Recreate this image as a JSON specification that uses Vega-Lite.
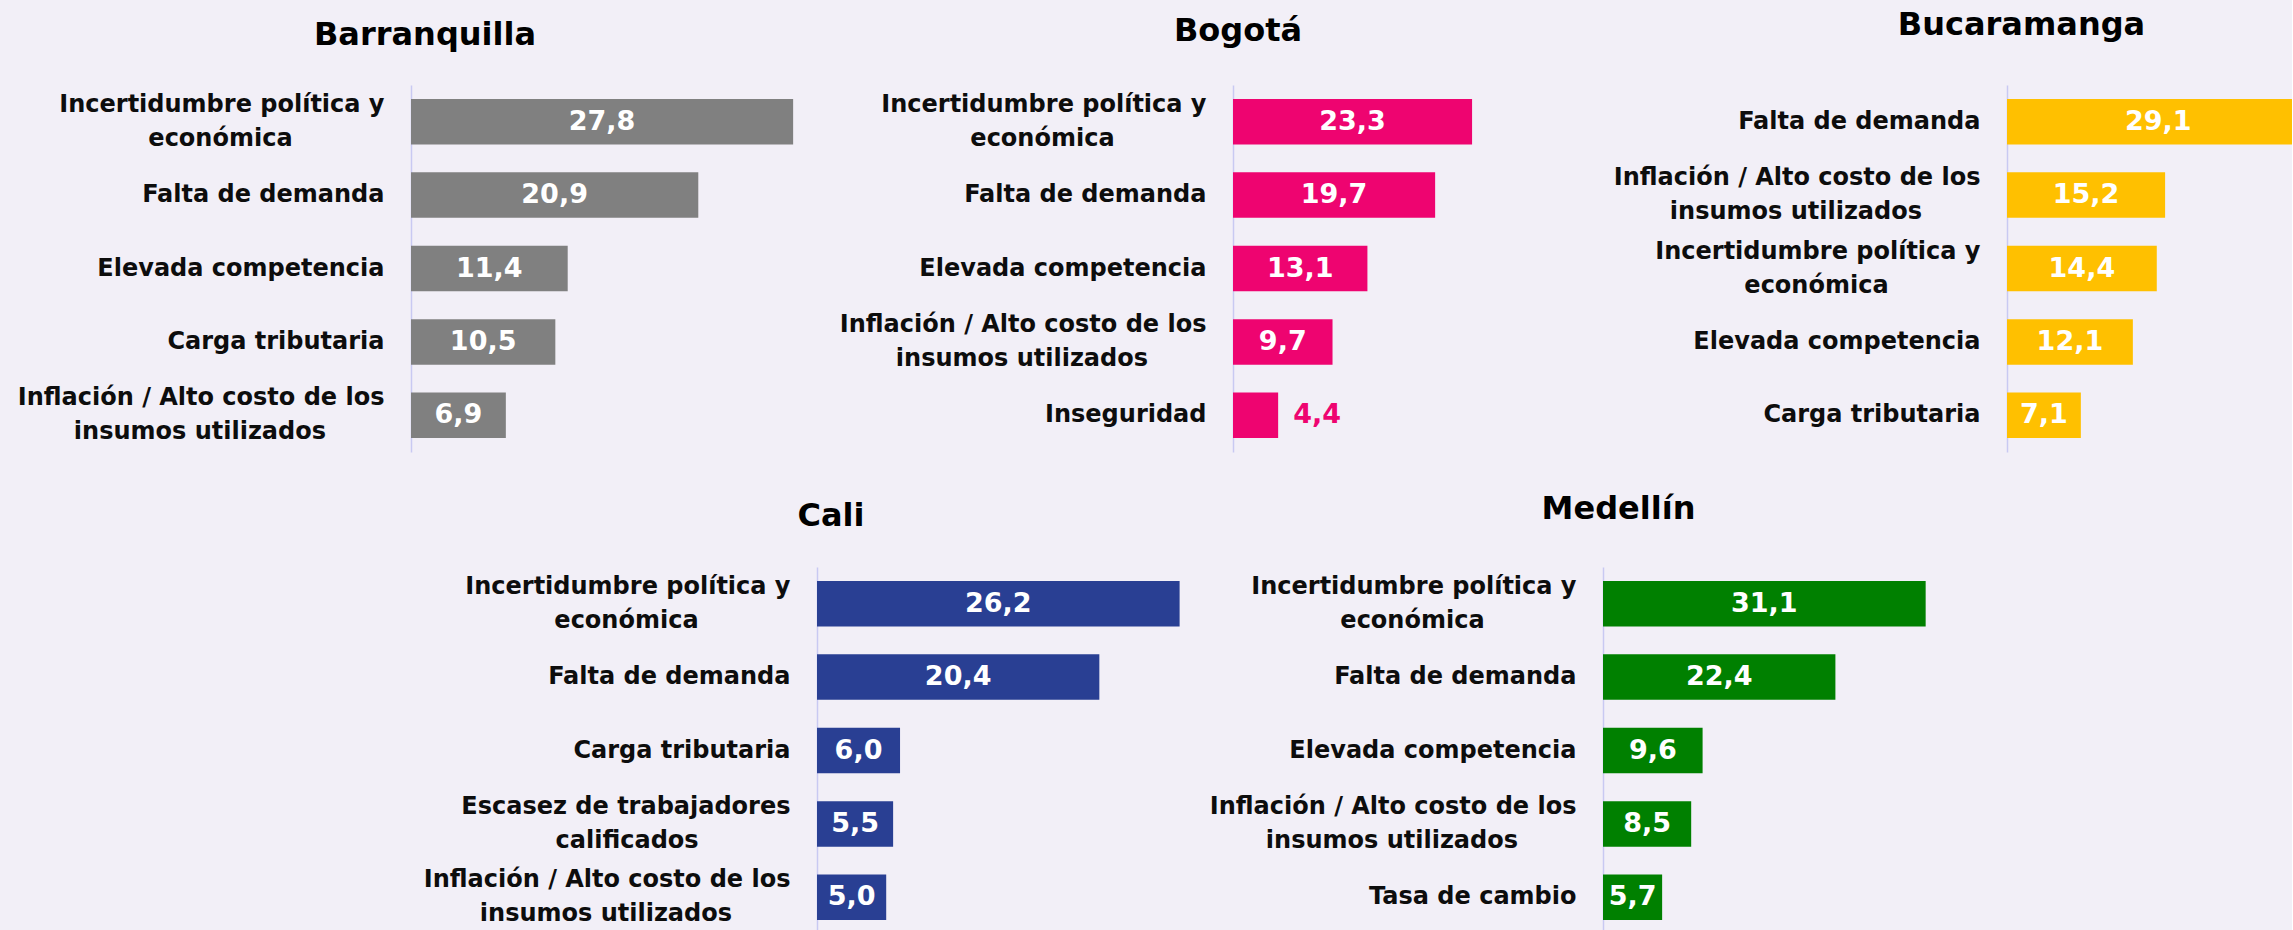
{
  "$schema": "https://vega.github.io/schema/vega-lite/v6.json",
  "padding": {"top": 8, "left": 0, "right": 0, "bottom": 0},
  "background": "#f2eff7",
  "datasets": {
    "d": [
      {"city": "Barranquilla", "factor": "Incertidumbre política y económica", "value": 27.8},
      {"city": "Barranquilla", "factor": "Falta de demanda", "value": 20.9},
      {"city": "Barranquilla", "factor": "Elevada competencia", "value": 11.4},
      {"city": "Barranquilla", "factor": "Carga tributaria", "value": 10.5},
      {"city": "Barranquilla", "factor": "Inflación / Alto costo de los insumos utilizados", "value": 6.9},
      {"city": "Bogotá", "factor": "Incertidumbre política y económica", "value": 23.3},
      {"city": "Bogotá", "factor": "Falta de demanda", "value": 19.7},
      {"city": "Bogotá", "factor": "Elevada competencia", "value": 13.1},
      {"city": "Bogotá", "factor": "Inflación / Alto costo de los insumos utilizados", "value": 9.7},
      {"city": "Bogotá", "factor": "Inseguridad", "value": 4.4},
      {"city": "Bucaramanga", "factor": "Falta de demanda", "value": 29.1},
      {"city": "Bucaramanga", "factor": "Inflación / Alto costo de los insumos utilizados", "value": 15.2},
      {"city": "Bucaramanga", "factor": "Incertidumbre política y económica", "value": 14.4},
      {"city": "Bucaramanga", "factor": "Elevada competencia", "value": 12.1},
      {"city": "Bucaramanga", "factor": "Carga tributaria", "value": 7.1},
      {"city": "Cali", "factor": "Incertidumbre política y económica", "value": 26.2},
      {"city": "Cali", "factor": "Falta de demanda", "value": 20.4},
      {"city": "Cali", "factor": "Carga tributaria", "value": 6.0},
      {"city": "Cali", "factor": "Escasez de trabajadores calificados", "value": 5.5},
      {"city": "Cali", "factor": "Inflación / Alto costo de los insumos utilizados", "value": 5.0},
      {"city": "Medellín", "factor": "Incertidumbre política y económica", "value": 31.1},
      {"city": "Medellín", "factor": "Falta de demanda", "value": 22.4},
      {"city": "Medellín", "factor": "Elevada competencia", "value": 9.6},
      {"city": "Medellín", "factor": "Inflación / Alto costo de los insumos utilizados", "value": 8.5},
      {"city": "Medellín", "factor": "Tasa de cambio", "value": 5.7}
    ]
  },
  "spacing": 40,
  "vconcat": [
    {
      "spacing": 0,
      "hconcat": [
        {
          "width": 422, "height": 367,
          "data": {"name": "d"},
          "transform": [{"filter": "datum.city == 'Barranquilla'"}],
          "title": {"text": "Barranquilla", "frame": "group", "anchor": "middle", "dx": -197, "offset": 8.5, "baseline": "alphabetic"},
          "encoding": {
            "y": {"field": "factor", "type": "nominal", "sort": null,
              "scale": {"domain": ["Incertidumbre política y económica", "Falta de demanda", "Elevada competencia", "Carga tributaria", "Inflación / Alto costo de los insumos utilizados"], "paddingInner": 0.38, "paddingOuter": 0.19},
              "axis": {"minExtent": 411, "maxExtent": 411}}
          },
          "layer": [
            {"mark": {"type": "bar", "color": "#808080", "clip": true},
             "encoding": {"x": {"field": "value", "type": "quantitative", "scale": {"domain": [0, 30.7], "nice": false, "zero": true}, "axis": null}}},
            {"transform": [{"filter": "datum.value >= 5"}],
             "mark": {"type": "text", "color": "#ffffff"},
             "encoding": {"x": {"field": "value", "type": "quantitative", "scale": {"domain": [0, 61.4], "nice": false}, "axis": null},
                          "text": {"field": "value", "type": "quantitative", "format": ".1f"}}}
          ],
          "resolve": {"scale": {"x": "independent"}}
        },
        {
          "width": 374, "height": 367,
          "data": {"name": "d"},
          "transform": [{"filter": "datum.city == 'Bogotá'"}],
          "title": {"text": "Bogotá", "frame": "group", "anchor": "middle", "dx": -182, "offset": 12.5, "baseline": "alphabetic"},
          "encoding": {
            "y": {"field": "factor", "type": "nominal", "sort": null,
              "scale": {"domain": ["Incertidumbre política y económica", "Falta de demanda", "Elevada competencia", "Inflación / Alto costo de los insumos utilizados", "Inseguridad"], "paddingInner": 0.38, "paddingOuter": 0.19},
              "axis": {"minExtent": 400, "maxExtent": 400}}
          },
          "layer": [
            {"mark": {"type": "bar", "color": "#ee0470", "clip": true},
             "encoding": {"x": {"field": "value", "type": "quantitative", "scale": {"domain": [0, 36.45], "nice": false, "zero": true}, "axis": null}}},
            {"transform": [{"filter": "datum.value >= 5"}],
             "mark": {"type": "text", "color": "#ffffff"},
             "encoding": {"x": {"field": "value", "type": "quantitative", "scale": {"domain": [0, 72.9], "nice": false}, "axis": null},
                          "text": {"field": "value", "type": "quantitative", "format": ".1f"}}},
            {"transform": [{"filter": "datum.value < 5"}],
             "mark": {"type": "text", "color": "#ee0470", "align": "left", "dx": 15},
             "encoding": {"x": {"field": "value", "type": "quantitative", "scale": {"domain": [0, 36.45], "nice": false}, "axis": null},
                          "text": {"field": "value", "type": "quantitative", "format": ".1f"}}}
          ],
          "resolve": {"scale": {"x": "independent"}}
        },
        {
          "width": 285, "height": 367,
          "data": {"name": "d"},
          "transform": [{"filter": "datum.city == 'Bucaramanga'"}],
          "title": {"text": "Bucaramanga", "frame": "group", "anchor": "middle", "dx": -128, "offset": 18.5, "baseline": "alphabetic"},
          "encoding": {
            "y": {"field": "factor", "type": "nominal", "sort": null,
              "scale": {"domain": ["Falta de demanda", "Inflación / Alto costo de los insumos utilizados", "Incertidumbre política y económica", "Elevada competencia", "Carga tributaria"], "paddingInner": 0.38, "paddingOuter": 0.19},
              "axis": {"minExtent": 400, "maxExtent": 400}}
          },
          "layer": [
            {"mark": {"type": "bar", "color": "#ffc000", "clip": true},
             "encoding": {"x": {"field": "value", "type": "quantitative", "scale": {"domain": [0, 27.4], "nice": false, "zero": true}, "axis": null}}},
            {"transform": [{"filter": "datum.value >= 5"}],
             "mark": {"type": "text", "color": "#ffffff"},
             "encoding": {"x": {"field": "value", "type": "quantitative", "scale": {"domain": [0, 54.8], "nice": false}, "axis": null},
                          "text": {"field": "value", "type": "quantitative", "format": ".1f"}}}
          ],
          "resolve": {"scale": {"x": "independent"}}
        }
      ]
    },
    {
      "spacing": 0,
      "hconcat": [
        {
          "width": 6, "height": 1,
          "data": {"values": [{}]},
          "mark": {"type": "text", "text": ""},
          "encoding": {}
        },
        {
          "width": 386, "height": 367,
          "data": {"name": "d"},
          "transform": [{"filter": "datum.city == 'Cali'"}],
          "title": {"text": "Cali", "frame": "group", "anchor": "middle", "dx": -179, "offset": 9.5, "baseline": "alphabetic"},
          "encoding": {
            "y": {"field": "factor", "type": "nominal", "sort": null,
              "scale": {"domain": ["Incertidumbre política y económica", "Falta de demanda", "Carga tributaria", "Escasez de trabajadores calificados", "Inflación / Alto costo de los insumos utilizados"], "paddingInner": 0.38, "paddingOuter": 0.19},
              "axis": {"minExtent": 400, "maxExtent": 400}}
          },
          "layer": [
            {"mark": {"type": "bar", "color": "#293f93", "clip": true},
             "encoding": {"x": {"field": "value", "type": "quantitative", "scale": {"domain": [0, 27.89], "nice": false, "zero": true}, "axis": null}}},
            {"transform": [{"filter": "datum.value >= 5"}],
             "mark": {"type": "text", "color": "#ffffff"},
             "encoding": {"x": {"field": "value", "type": "quantitative", "scale": {"domain": [0, 55.78], "nice": false}, "axis": null},
                          "text": {"field": "value", "type": "quantitative", "format": ".1f"}}}
          ],
          "resolve": {"scale": {"x": "independent"}}
        },
        {
          "width": 415, "height": 367,
          "data": {"name": "d"},
          "transform": [{"filter": "datum.city == 'Medellín'"}],
          "title": {"text": "Medellín", "frame": "group", "anchor": "middle", "dx": -192, "offset": 16.5, "baseline": "alphabetic"},
          "encoding": {
            "y": {"field": "factor", "type": "nominal", "sort": null,
              "scale": {"domain": ["Incertidumbre política y económica", "Falta de demanda", "Elevada competencia", "Inflación / Alto costo de los insumos utilizados", "Tasa de cambio"], "paddingInner": 0.38, "paddingOuter": 0.19},
              "axis": {"minExtent": 400, "maxExtent": 400}}
          },
          "layer": [
            {"mark": {"type": "bar", "color": "#008000", "clip": true},
             "encoding": {"x": {"field": "value", "type": "quantitative", "scale": {"domain": [0, 40], "nice": false, "zero": true}, "axis": null}}},
            {"transform": [{"filter": "datum.value >= 5"}],
             "mark": {"type": "text", "color": "#ffffff"},
             "encoding": {"x": {"field": "value", "type": "quantitative", "scale": {"domain": [0, 80], "nice": false}, "axis": null},
                          "text": {"field": "value", "type": "quantitative", "format": ".1f"}}}
          ],
          "resolve": {"scale": {"x": "independent"}}
        }
      ]
    }
  ],
  "config": {
    "locale": {"number": {"decimal": ",", "thousands": ".", "grouping": [3], "currency": ["$", ""]}},
    "view": {"stroke": null},
    "text": {"font": "DejaVu Sans", "fontWeight": "bold", "fontSize": 27},
    "title": {"font": "DejaVu Sans", "fontWeight": "bold", "fontSize": 32, "color": "#000000"},
    "axisY": {
      "title": null, "grid": false, "ticks": false, "domain": true,
      "domainColor": "#c9c9f2", "domainWidth": 1.5,
      "labelPadding": 27, "labelFont": "DejaVu Sans", "labelFontWeight": "bold",
      "labelFontSize": 24, "labelColor": "#0d0d0d", "labelLimit": 600,
      "labelLineHeight": 34, "labelOverlap": false, "labelBaseline": "middle",
      "labelOffset": {"condition": {"test": "length(datum.label) > 25", "value": -17}, "value": 0},
      "labelExpr": "datum.label == 'Incertidumbre política y económica' ? ['Incertidumbre política y', 'económica\u00a0\u00a0\u00a0\u00a0\u00a0\u00a0\u00a0\u00a0\u00a0\u00a0\u00a0\u200b'] : datum.label == 'Inflación / Alto costo de los insumos utilizados' ? ['Inflación / Alto costo de los', 'insumos utilizados\u00a0\u00a0\u00a0\u00a0\u00a0\u00a0\u00a0\u200b'] : datum.label == 'Escasez de trabajadores calificados' ? ['Escasez de trabajadores', 'calificados\u00a0\u00a0\u00a0\u00a0\u00a0\u00a0\u00a0\u00a0\u00a0\u00a0\u00a0\u200b'] : datum.label"
    }
  }
}
